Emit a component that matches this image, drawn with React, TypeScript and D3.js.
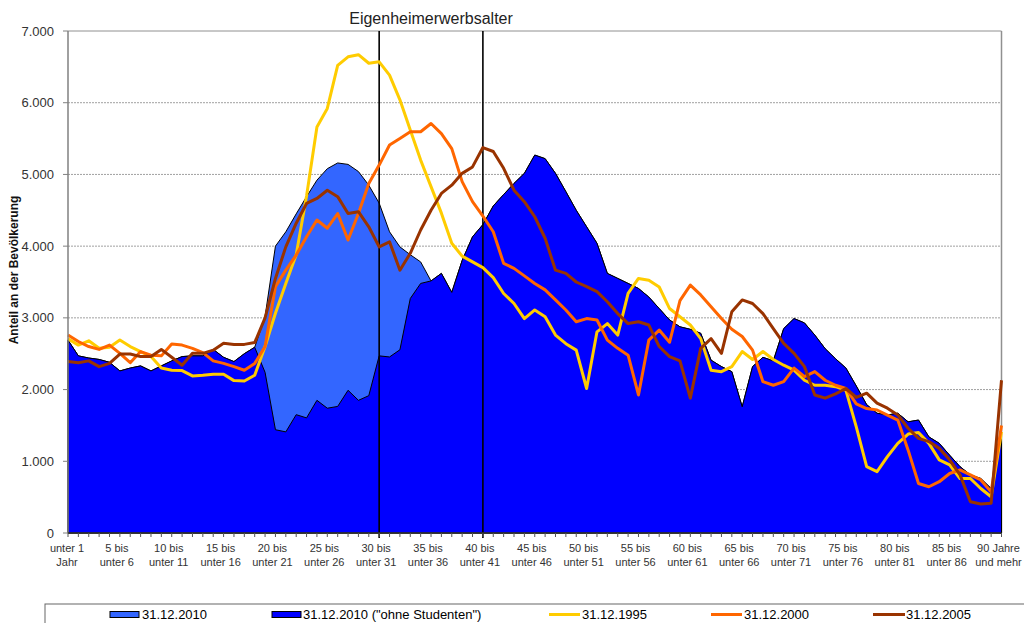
import React from 'react';
import * as d3 from 'd3';

const yTicks = [0, 1000, 2000, 3000, 4000, 5000, 6000, 7000];
const xLabelCats = [0, 5, 10, 15, 20, 25, 30, 35, 40, 45, 50, 55, 60, 65, 70, 75, 80, 85, 90];
const xLabelLine1 = ['unter 1', '5 bis', '10 bis', '15 bis', '20 bis', '25 bis', '30 bis', '35 bis', '40 bis', '45 bis', '50 bis', '55 bis', '60 bis', '65 bis', '70 bis', '75 bis', '80 bis', '85 bis', '90 Jahre'];
const xLabelLine2 = ['Jahr', 'unter 6', 'unter 11', 'unter 16', 'unter 21', 'unter 26', 'unter 31', 'unter 36', 'unter 41', 'unter 46', 'unter 51', 'unter 56', 'unter 61', 'unter 66', 'unter 71', 'unter 76', 'unter 81', 'unter 86', 'und mehr'];
const markerCats = [30, 40];

// 31.12.2010
const total2010 = [
  2690, 2470, 2440, 2420, 2380, 2260, 2300, 2330, 2260, 2330,
  2400, 2460, 2470, 2470, 2560, 2450, 2390, 2500, 2590, 3020,
  4000, 4200, 4450, 4690, 4920, 5080, 5160, 5140, 5040, 4850,
  4600, 4200, 3990, 3880, 3780, 3515, 3620, 3355, 3800, 4130,
  4300, 4560, 4720, 4875, 5015, 5270, 5220, 5015, 4760, 4500,
  4270, 4040, 3620, 3550, 3480, 3410, 3290, 3130, 2970, 2875,
  2840, 2785, 2410, 2320, 2250, 1760, 2320, 2450, 2400, 2850,
  2990, 2930, 2760, 2570, 2430, 2300, 2050, 1790, 1670, 1645,
  1670, 1550, 1575, 1340, 1250, 1085, 925, 810, 760, 620,
  1400,
];
// 31.12.2010 ("ohne Studenten")
const noStudents2010 = [
  2690, 2470, 2440, 2420, 2380, 2260, 2300, 2330, 2260, 2330,
  2400, 2460, 2470, 2470, 2560, 2450, 2390, 2500, 2590, 2240,
  1440, 1410, 1650, 1605, 1850, 1740, 1765, 1990, 1850, 1915,
  2470, 2455, 2555, 3270, 3480, 3515, 3620, 3355, 3800, 4130,
  4300, 4560, 4720, 4875, 5015, 5270, 5220, 5015, 4760, 4500,
  4270, 4040, 3620, 3550, 3480, 3410, 3290, 3130, 2970, 2875,
  2840, 2785, 2410, 2320, 2250, 1760, 2320, 2450, 2400, 2850,
  2990, 2930, 2760, 2570, 2430, 2300, 2050, 1790, 1670, 1645,
  1670, 1550, 1575, 1340, 1250, 1085, 925, 810, 760, 620,
  1400,
];
const y1995 = [
  2710, 2620, 2680, 2575, 2590, 2690, 2600, 2530, 2460, 2300,
  2270, 2265, 2190, 2200, 2215, 2215, 2125, 2120, 2200, 2600,
  3065, 3480, 3880, 4700, 5660, 5920, 6520, 6640, 6670, 6550,
  6570, 6385, 6040, 5620, 5200, 4830, 4460, 4040, 3860, 3780,
  3700, 3560, 3340, 3200, 2990, 3110, 3015, 2760, 2640, 2550,
  2015, 2805, 2920, 2760, 3340, 3550, 3525, 3430, 3130, 3015,
  2900, 2710, 2270, 2250, 2320, 2530, 2420, 2530, 2420, 2340,
  2270, 2130, 2060, 2060, 2040, 1990, 1480, 925, 855, 1065,
  1250, 1380, 1400, 1250, 1020, 950, 760, 760, 620, 505,
  1410,
];
const y2000 = [
  2760, 2670, 2600, 2560, 2620, 2505, 2375, 2530, 2480, 2470,
  2635, 2620, 2575, 2515, 2400, 2365, 2320, 2270, 2365, 2600,
  3435, 3665, 3875, 4130, 4365, 4250, 4455, 4085, 4455, 4875,
  5130, 5410, 5500, 5595, 5595, 5710, 5570, 5360, 4900, 4620,
  4420, 4200, 3760, 3690, 3585, 3480, 3390, 3250, 3110, 2945,
  2990, 2970, 2690, 2575, 2480, 1925, 2690, 2830, 2660, 3240,
  3457, 3320, 3155, 2990, 2840, 2740, 2550, 2110, 2060, 2110,
  2300, 2180, 2250, 2130, 2060, 2015, 1800, 1735, 1715, 1645,
  1575, 1155, 690, 645, 715, 830, 880, 810, 740, 575,
  1500,
];
const y2005 = [
  2390, 2375, 2400, 2320, 2365, 2495, 2495, 2460, 2460, 2560,
  2450, 2340, 2505, 2505, 2550, 2645, 2630, 2630, 2655, 3000,
  3550, 3990, 4320, 4595, 4665, 4780, 4690, 4455, 4480, 4270,
  3990, 4060, 3665, 3900, 4225, 4500, 4735, 4850, 5015, 5105,
  5375, 5320, 5085, 4780, 4620, 4410, 4110, 3665, 3620, 3500,
  3435, 3365, 3225, 3060, 2920, 2945, 2900, 2600, 2460, 2400,
  1880, 2575, 2710, 2505, 3085, 3250, 3200, 3060, 2850, 2645,
  2505, 2320, 1925, 1880, 1940, 2015, 1890, 1950, 1810, 1740,
  1645, 1460, 1320, 1275, 1180, 1020, 810, 435, 405, 415,
  2130,
];

const C_LIGHT = '#3366FF';
const C_DARK = '#0000FF';
const C_Y = '#FFCC00';
const C_O = '#FF6600';
const C_B = '#993300';

export default function App() {
  const x = d3.scaleLinear().domain([0, 90]).range([68, 1001.5]);
  const y = d3.scaleLinear().domain([0, 7000]).range([533, 31]);
  const cats = d3.range(91);

  const areaGen = d3
    .area<number>()
    .x((_, i) => x(i))
    .y0(y(0))
    .y1((d) => y(d));
  const lineGen = d3
    .line<number>()
    .x((_, i) => x(i))
    .y((d) => y(d));

  const font = "'Liberation Sans', Arial, sans-serif";
  const x0 = x(0);
  const x1 = x(90);
  const legY = 614.5;

  return (
    <svg
      width={1024}
      height={623}
      style={{ position: 'absolute', left: 0, top: 0, background: '#fff' }}
      fontFamily={font}
    >
      <rect x={0} y={0} width={1024} height={623} fill="#fff" />
      {/* gridlines */}
      {yTicks.slice(1, -1).map((t) => (
        <line key={'g' + t} x1={x0} x2={x1} y1={y(t)} y2={y(t)} stroke="#a0a0a0" strokeWidth={1} strokeDasharray="2,1" />
      ))}
      {/* plot frame */}
      <line x1={x0} x2={x1} y1={y(7000)} y2={y(7000)} stroke="#909090" strokeWidth={1} />
      <line x1={x1} x2={x1} y1={y(7000)} y2={y(0)} stroke="#909090" strokeWidth={1.5} />

      {/* areas */}
      <path d={areaGen(total2010) || ''} fill={C_LIGHT} stroke="#000" strokeWidth={1} strokeLinejoin="round" />
      <path d={areaGen(noStudents2010) || ''} fill={C_DARK} stroke="#000" strokeWidth={1} strokeLinejoin="round" />

      {/* marker lines */}
      {markerCats.map((c) => (
        <line key={'m' + c} x1={x(c)} x2={x(c)} y1={y(7000)} y2={y(0) + 5} stroke="#000" strokeWidth={1.6} />
      ))}

      {/* series lines */}
      <path d={lineGen(y1995) || ''} fill="none" stroke={C_Y} strokeWidth={3} strokeLinejoin="round" />
      <path d={lineGen(y2000) || ''} fill="none" stroke={C_O} strokeWidth={3} strokeLinejoin="round" />
      <path d={lineGen(y2005) || ''} fill="none" stroke={C_B} strokeWidth={3} strokeLinejoin="round" />

      {/* axes */}
      <line x1={x0} x2={x0} y1={y(7000)} y2={y(0)} stroke="#808080" strokeWidth={1.5} />
      <line x1={x0} x2={x1} y1={y(0)} y2={y(0)} stroke="#333" strokeWidth={1.5} />
      {yTicks.map((t) => (
        <g key={'yt' + t}>
          <line x1={x0 - 5} x2={x0} y1={y(t)} y2={y(t)} stroke="#808080" strokeWidth={1} />
          <text x={54} y={y(t) + 4.5} textAnchor="end" fontSize={13} fill="#333">
            {d3.format(',')(t).replace(/,/g, '.')}
          </text>
        </g>
      ))}
      {cats.map((c) => (
        <line key={'xt' + c} x1={x(c)} x2={x(c)} y1={y(0)} y2={y(0) + 4} stroke="#555" strokeWidth={1} />
      ))}
      {xLabelCats.map((c, i) => (
        <text key={'xl' + c} textAnchor="middle" fontSize={11} fill="#333">
          <tspan x={x(c) - (c === 0 ? 1 : 3)} y={552}>{xLabelLine1[i]}</tspan>
          <tspan x={x(c) - (c === 0 ? 1 : 3)} y={566}>{xLabelLine2[i]}</tspan>
        </text>
      ))}

      {/* axis title */}
      <text transform={`translate(18, ${270}) rotate(-90)`} textAnchor="middle" fontSize={12} fontWeight="bold" fill="#111">
        Anteil an der Bevölkerung
      </text>

      {/* title */}
      <text x={(x(30) + x(40)) / 2} y={24} textAnchor="middle" fontSize={16} fill="#222">
        Eigenheimerwerbsalter
      </text>

      {/* legend */}
      <rect x={45} y={604} width={1000} height={40} fill="#fff" stroke="#666" strokeWidth={1} />
      <rect x={110} y={legY - 3} width={29} height={6} fill={C_LIGHT} stroke="#000" strokeWidth={1} />
      <text x={142} y={legY + 4.5} fontSize={13} fill="#000">31.12.2010</text>
      <rect x={272} y={legY - 3} width={29} height={6} fill={C_DARK} stroke="#000" strokeWidth={1} />
      <text x={303} y={legY + 4.5} fontSize={13} fill="#000">31.12.2010 ("ohne Studenten")</text>
      <line x1={549} x2={580} y1={legY} y2={legY} stroke={C_Y} strokeWidth={3} />
      <text x={582} y={legY + 4.5} fontSize={13} fill="#000">31.12.1995</text>
      <line x1={711} x2={742} y1={legY} y2={legY} stroke={C_O} strokeWidth={3} />
      <text x={744} y={legY + 4.5} fontSize={13} fill="#000">31.12.2000</text>
      <line x1={873} x2={905} y1={legY} y2={legY} stroke={C_B} strokeWidth={3} />
      <text x={906} y={legY + 4.5} fontSize={13} fill="#000">31.12.2005</text>
    </svg>
  );
}
